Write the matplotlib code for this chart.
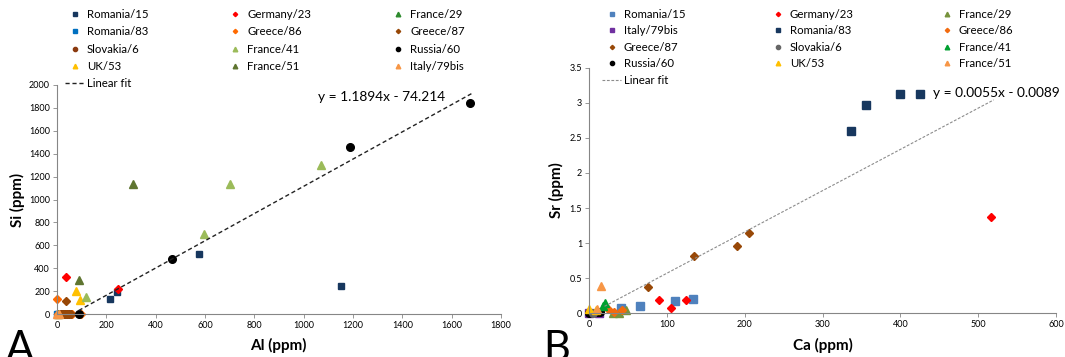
import matplotlib
matplotlib.use("Agg")
import matplotlib.pyplot as plt
from matplotlib.ticker import FuncFormatter

plt.rcParams['font.family'] = ['Lato', 'DejaVu Sans']

# ---------------- Panel A: Si vs Al ----------------
a_names = ["Romania/15", "Romania/83", "Slovakia/6", "UK/53",
           "Germany/23", "Greece/86", "France/41", "France/51",
           "France/29", "Greece/87", "Russia/60", "Italy/79bis"]
a_al = [[1152, 575, 244, 214], [0, 3], [15, 25, 32, 40, 50], [76, 92],
        [38, 248], [0, 5, 60, 97], [1071, 701, 597, 116], [310, 89],
        [5], [38, 20, 28, 35, 45, 55], [1675, 1188, 468, 88], [0, 8]]
a_si = [[245, 521, 189, 131], [0, 2], [0, 0, 0, 0, 0], [204, 125],
        [320, 215], [131, 0, 0, 0], [1301, 1132, 699, 146], [1135, 297],
        [0], [114, 0, 0, 0, 0, 0], [1840, 1458, 477, 0], [0, 0]]
a_colors = ["#17375E", "#0070C0", "#8B3A0F", "#FFC000",
            "#FF0000", "#FF6A00", "#9BBB59", "#5F7530",
            "#2E8B2E", "#974706", "#000000", "#F79646"]
a_markers = ["s", "s", "o", "^", "D", "D", "^", "^", "^", "D", "o", "^"]
a_fit_x = [88, 1680]
a_slope, a_icpt = 1.1894, -74.214

# ---------------- Panel B: Sr vs Ca ----------------
b_names = ["Romania/15", "Italy/79bis", "Greece/87", "Russia/60",
           "Germany/23", "Romania/83", "Slovakia/6", "UK/53",
           "France/29", "Greece/86", "France/41", "France/51"]
b_ca = [[134, 111, 65, 41], [0, 13], [205, 190, 135, 76], [0, 10, 14],
        [517, 90, 124, 105], [336, 356, 400, 425], [5], [0, 9],
        [47, 39, 31], [24, 32, 43], [20, 18], [16, 10]]
b_sr = [[0.20, 0.17, 0.10, 0.07], [0, 0], [1.15, 0.96, 0.81, 0.38], [0.01, 0.02, 0.02],
        [1.37, 0.19, 0.19, 0.07], [2.59, 2.97, 3.13, 3.13], [0.01], [0.06, 0.05],
        [0.05, 0.01, 0.01], [0.06, 0.02, 0.04], [0.15, 0.11], [0.39, 0.06]]
b_colors = ["#4F81BD", "#7030A0", "#984807", "#000000",
            "#FF0000", "#17375E", "#666666", "#FFC000",
            "#77933C", "#F26B0F", "#00A030", "#F79646"]
b_markers = ["s", "s", "D", "o", "D", "s", "o", "^", "^", "D", "^", "^"]
b_fit_x = [20, 520]
b_fit_y = [0.10, 3.04]

msize = {"s": 5, "o": 5.5, "^": 6, "D": 4}

fig = plt.figure(figsize=(10.65, 3.57), dpi=100)
W, H = 1065, 357
axA = fig.add_axes([57 / W, 1 - 314 / H, 444 / W, 229 / H])
axB = fig.add_axes([589 / W, 1 - 313.3 / H, 467 / W, 245.7 / H])


def style_axis(ax):
    for s in ["top", "right"]:
        ax.spines[s].set_visible(False)
    for s in ["left", "bottom"]:
        ax.spines[s].set_color("#868686")
        ax.spines[s].set_linewidth(0.8)
    ax.tick_params(labelsize=6.5, length=3, width=0.6, color="#868686", pad=2)


# panel A
for n, xs, ys, c, m in zip(a_names, a_al, a_si, a_colors, a_markers):
    axA.plot(xs, ys, ls="none", marker=m, color=c, ms=msize[m], label=n, clip_on=False)
fx = a_fit_x
axA.plot(fx, [a_slope * v + a_icpt for v in fx], ls="--", color="#222222", lw=1.0,
         dashes=(3, 2), label="Linear fit")
axA.set_xlim(0, 1800)
axA.set_ylim(0, 2000)
axA.set_xticks(range(0, 1801, 200))
axA.set_yticks(range(0, 2001, 200))
style_axis(axA)
axA.set_xlabel("Al (ppm)", fontsize=11, fontweight="bold")
axA.set_ylabel("Si (ppm)", fontsize=11, fontweight="bold")
axA.xaxis.set_label_coords(0.498, -0.105)
axA.yaxis.set_label_coords(-0.072, 0.498)
axA.text(1060, 1895, "y = 1.1894x - 74.214", fontsize=9.9, va="center", ha="left")

# panel B
for n, xs, ys, c, m in zip(b_names, b_ca, b_sr, b_colors, b_markers):
    axB.plot(xs, ys, ls="none", marker=m, color=c, ms=msize[m] + (1 if m == "s" else 0),
             label=n, clip_on=False)
axB.plot(b_fit_x, b_fit_y, ls="--", color="#8C8C8C", lw=0.8, dashes=(2.5, 1.5),
         label="Linear fit")
axB.set_xlim(0, 600)
axB.set_ylim(0, 3.5)
axB.set_xticks(range(0, 601, 100))
axB.set_yticks([0, 0.5, 1, 1.5, 2, 2.5, 3, 3.5])
axB.yaxis.set_major_formatter(FuncFormatter(lambda v, p: "%g" % v))
style_axis(axB)
axB.set_xlabel("Ca (ppm)", fontsize=11, fontweight="bold")
axB.set_ylabel("Sr (ppm)", fontsize=11, fontweight="bold")
axB.xaxis.set_label_coords(0.501, -0.10)
axB.yaxis.set_label_coords(-0.0535, 0.502)
axB.text(442, 3.14, "y = 0.0055x - 0.0089", fontsize=9.9, va="center", ha="left",
         clip_on=False)

# legends, Excel-style above each plot (column-major: linear fit ends column 1)
for ax, x0, y0, sp, cs in [(axA, 65, 9, 0.55, 6.8), (axB, 602, 9, 0.48, 7.3)]:
    h, l = ax.get_legend_handles_labels()
    h = h[:4] + [h[-1]] + h[4:-1]
    l = l[:4] + [l[-1]] + l[4:-1]
    fig.legend(h, l, ncol=3, loc="upper left", bbox_to_anchor=(x0 / W, 1 - y0 / H),
               frameon=False, fontsize=8.2, markerscale=0.55, handlelength=1.7,
               handletextpad=0.2, columnspacing=cs, labelspacing=sp,
               borderaxespad=0, borderpad=0)

fig.text(6 / W, 1 - 361 / H, "A", fontsize=30, va="baseline", ha="left")
fig.text(543 / W, 1 - 361 / H, "B", fontsize=30, va="baseline", ha="left")

fig.savefig("out.png", dpi=100)
